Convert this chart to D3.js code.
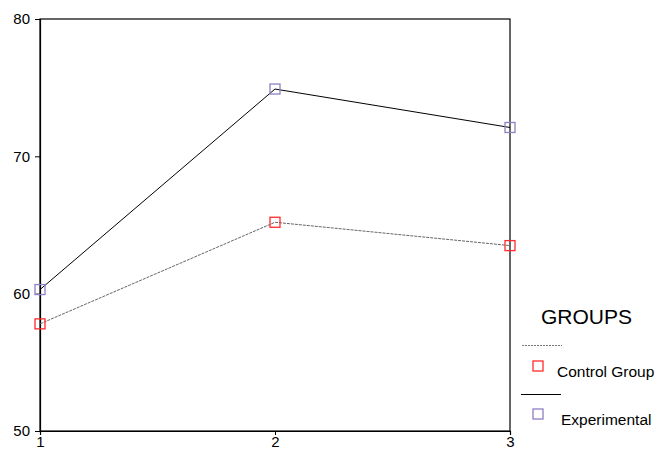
<!DOCTYPE html>
<html>
<head>
<meta charset="utf-8">
<script src="https://cdn.jsdelivr.net/npm/d3@7"></script>
<style>
body{margin:0;background:#fff;}
svg{display:block;font-family:"Liberation Sans",Arial,sans-serif;}
</style>
</head>
<body>
<svg id="chart" width="656" height="450"></svg>
<script>
const categories = [1, 2, 3];
const controlValues = [57.8, 65.2, 63.5];
const experimentalValues = [60.3, 74.9, 72.1];
const yTicks = [50, 60, 70, 80];
const seriesNames = ["Control Group", "Experimental"];

const svg = d3.select("#chart");
const plotLeft = 40, plotRight = 510, plotTop = 19, plotBottom = 431;

const x = d3.scaleLinear().domain([1, 3]).range([plotLeft, plotRight]);
const y = d3.scaleLinear().domain([50, 80]).range([plotBottom, plotTop]);

// frame
svg.append("rect").attr("x", plotLeft).attr("y", plotTop).attr("width", plotRight - plotLeft).attr("height", plotBottom - plotTop)
  .attr("fill", "none").attr("stroke", "#000").attr("stroke-width", 1.2);

// y axis
const yAxis = svg.append("g").attr("transform", `translate(${plotLeft},0)`)
  .call(d3.axisLeft(y).tickValues(yTicks).tickSize(5).tickPadding(5).tickFormat(d3.format("d")));
yAxis.select(".domain").attr("stroke", "#000").attr("stroke-width", 1.2);
yAxis.selectAll("text").attr("font-size", 15).attr("fill", "#000").attr("font-family", "Liberation Sans, Arial, sans-serif");

// x axis
const xAxis = svg.append("g").attr("transform", `translate(0,${plotBottom})`)
  .call(d3.axisBottom(x).tickValues(categories).tickSize(4).tickPadding(1).tickFormat(d3.format("d")));
xAxis.select(".domain").attr("stroke", "#000").attr("stroke-width", 1.2);
xAxis.selectAll("text").attr("font-size", 15).attr("fill", "#000").attr("font-family", "Liberation Sans, Arial, sans-serif");

const line = d3.line().x((d, i) => x(categories[i])).y(d => y(d));

svg.append("path").datum(controlValues).attr("d", line)
  .attr("fill", "none").attr("stroke", "#666").attr("stroke-width", 1).attr("stroke-dasharray", "3,1");
svg.append("path").datum(experimentalValues).attr("d", line)
  .attr("fill", "none").attr("stroke", "#000").attr("stroke-width", 1);

const sq = 10;
function markers(vals, color) {
  svg.append("g").selectAll("rect").data(vals).join("rect")
    .attr("x", (d, i) => x(categories[i]) - sq / 2)
    .attr("y", d => y(d) - sq / 2)
    .attr("width", sq).attr("height", sq)
    .attr("fill", "none").attr("stroke", color).attr("stroke-width", 1.3);
}
markers(controlValues, "#ff2a2a");
markers(experimentalValues, "#8f7fc4");

// legend
const lg = svg.append("g");
lg.append("text").attr("x", 541).attr("y", 324).attr("font-size", 21).attr("fill", "#000").text("GROUPS");
lg.append("line").attr("x1", 522).attr("x2", 562).attr("y1", 345.5).attr("y2", 345.5)
  .attr("stroke", "#777").attr("stroke-width", 1).attr("stroke-dasharray", "2,1");
lg.append("rect").attr("x", 533).attr("y", 361).attr("width", sq).attr("height", sq)
  .attr("fill", "none").attr("stroke", "#ff2a2a").attr("stroke-width", 1.3);
lg.append("text").attr("x", 557).attr("y", 377).attr("font-size", 15.5).attr("fill", "#000").text(seriesNames[0]);
lg.append("line").attr("x1", 521).attr("x2", 561).attr("y1", 394.5).attr("y2", 394.5)
  .attr("stroke", "#000").attr("stroke-width", 1);
lg.append("rect").attr("x", 533).attr("y", 409).attr("width", sq).attr("height", sq)
  .attr("fill", "none").attr("stroke", "#8f7fc4").attr("stroke-width", 1.3);
lg.append("text").attr("x", 561).attr("y", 425).attr("font-size", 15.5).attr("fill", "#000").text(seriesNames[1]);
</script>
</body>
</html>
